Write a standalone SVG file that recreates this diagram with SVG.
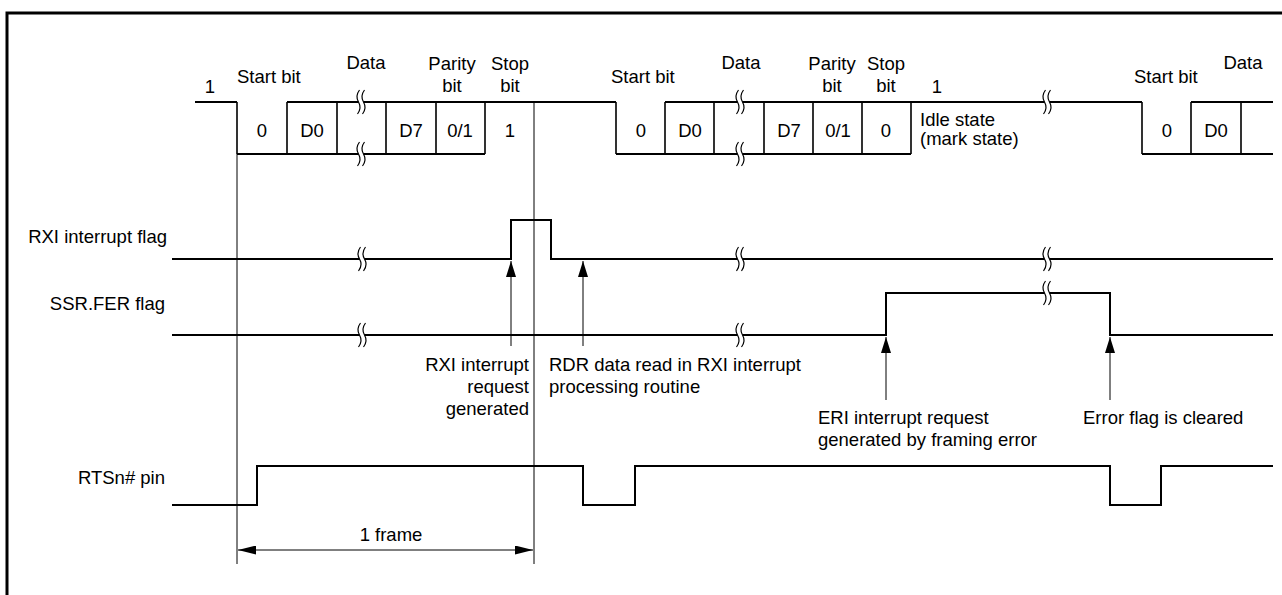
<svg xmlns="http://www.w3.org/2000/svg" width="1282" height="595" viewBox="0 0 1282 595">
<style>
.t{font-family:"Liberation Sans",Arial,sans-serif;font-size:18.5px;fill:#000}
.m{text-anchor:middle}
.e{text-anchor:end}
.sig{fill:none;stroke:#000;stroke-width:2}
.box{fill:none;stroke:#000;stroke-width:1.6}
.ref{fill:none;stroke:#000;stroke-width:1}
.arr{fill:none;stroke:#000;stroke-width:1}
</style>
<defs>
<marker id="ah" markerUnits="userSpaceOnUse" markerWidth="16" markerHeight="10" viewBox="0 0 16 10" refX="16" refY="5" orient="auto-start-reverse">
<path d="M0,0 L16,5 L0,10 Z" fill="#000"/>
</marker>
<marker id="ah2" markerUnits="userSpaceOnUse" markerWidth="18" markerHeight="9" viewBox="0 0 18 9" refX="18" refY="4.5" orient="auto-start-reverse">
<path d="M0,0 L18,4.5 L0,9 Z" fill="#000"/>
</marker>
<g id="brk">
<path d="M-1.5,-12 Q-6,-6 -2.5,0 Q1,6 -3.5,12 L1.5,12 Q6,6 2.5,0 Q-1,-6 3.5,-12 Z" fill="#fff" stroke="none"/>
<path d="M-1.5,-12 Q-6,-6 -2.5,0 Q1,6 -3.5,12 M3.5,-12 Q-1,-6 2.5,0 Q6,6 1.5,12" fill="none" stroke="#000" stroke-width="1.2"/>
</g>
</defs>

<g id="border">
<path d="M7,600 V13 H1290" fill="none" stroke="#000" stroke-width="3"/>
</g>

<g id="labels">
<text class="t e" x="167" y="243">RXI interrupt flag</text>
<text class="t e" x="165" y="310">SSR.FER flag</text>
<text class="t e" x="165" y="484">RTSn# pin</text>
</g>

<g id="rxd-signal">
<path class="sig" d="M195,102 H237 M287,102 H616 M665,102 H1142 M1191,102 H1273 M237,154 H485 M616,154 H911 M1142,154 H1273"/>
<path class="box" d="M237,102 V154 M287,102 V154 M337,102 V154 M386,102 V154 M436,102 V154 M485,102 V154 M616,102 V154 M665,102 V154 M714,102 V154 M764,102 V154 M813,102 V154 M862,102 V154 M911,102 V154 M1142,102 V154 M1191,102 V154 M1241,102 V154"/>
<use href="#brk" x="361" y="102"/>
<use href="#brk" x="361" y="154"/>
<use href="#brk" x="740" y="102"/>
<use href="#brk" x="740" y="154"/>
<use href="#brk" x="1047" y="102"/>
<text class="t m" x="210" y="93">1</text>
<text class="t" x="237" y="83">Start bit</text>
<text class="t m" x="366" y="69">Data</text>
<text class="t m" x="452" y="70">Parity</text>
<text class="t m" x="452" y="92">bit</text>
<text class="t m" x="510" y="70">Stop</text>
<text class="t m" x="510" y="92">bit</text>
<text class="t m" x="262" y="137">0</text>
<text class="t m" x="312" y="137">D0</text>
<text class="t m" x="411" y="137">D7</text>
<text class="t m" x="460" y="137">0/1</text>
<text class="t m" x="510" y="137">1</text>
<text class="t" x="611" y="83">Start bit</text>
<text class="t m" x="741" y="69">Data</text>
<text class="t m" x="832" y="70">Parity</text>
<text class="t m" x="832" y="92">bit</text>
<text class="t m" x="886" y="70">Stop</text>
<text class="t m" x="886" y="92">bit</text>
<text class="t m" x="937" y="93">1</text>
<text class="t m" x="641" y="137">0</text>
<text class="t m" x="690" y="137">D0</text>
<text class="t m" x="789" y="137">D7</text>
<text class="t m" x="838" y="137">0/1</text>
<text class="t m" x="886" y="137">0</text>
<text class="t" x="920" y="126">Idle state</text>
<text class="t" x="920" y="145">(mark state)</text>
<text class="t" x="1134" y="83">Start bit</text>
<text class="t m" x="1243" y="69">Data</text>
<text class="t m" x="1167" y="137">0</text>
<text class="t m" x="1216" y="137">D0</text>
</g>

<g id="rxi-flag">
<path class="sig" d="M172,259 H511 V220 H551 V259 H1273"/>
<use href="#brk" x="362" y="259"/>
<use href="#brk" x="740" y="259"/>
<use href="#brk" x="1047" y="259"/>
</g>

<g id="ssr-fer-flag">
<path class="sig" d="M172,335 H886 V293 H1110 V335 H1273"/>
<use href="#brk" x="362" y="335"/>
<use href="#brk" x="740" y="335"/>
<use href="#brk" x="1047" y="293"/>
</g>

<g id="rts-pin">
<path class="sig" d="M172,505 H257 V466 H583 V505 H635 V466 H1110 V505 H1161 V466 H1273"/>
</g>

<g id="connectors">
<path class="ref" d="M237,154 V564 M534,102 V564"/>
<line class="arr" x1="511" y1="346" x2="511" y2="261" marker-end="url(#ah)"/>
<line class="arr" x1="583" y1="346" x2="583" y2="261" marker-end="url(#ah)"/>
<line class="arr" x1="886" y1="400" x2="886" y2="337" marker-end="url(#ah)"/>
<line class="arr" x1="1110" y1="400" x2="1110" y2="337" marker-end="url(#ah)"/>
<line class="arr" x1="238" y1="550" x2="533" y2="550" marker-start="url(#ah2)" marker-end="url(#ah2)"/>
</g>

<g id="annotations">
<text class="t e" x="529" y="371">RXI interrupt</text>
<text class="t e" x="529" y="393">request</text>
<text class="t e" x="529" y="415">generated</text>
<text class="t" x="549" y="371">RDR data read in RXI interrupt</text>
<text class="t" x="549" y="393">processing routine</text>
<text class="t" x="818" y="424">ERI interrupt request</text>
<text class="t" x="818" y="446">generated by framing error</text>
<text class="t" x="1083" y="424">Error flag is cleared</text>
<text class="t m" x="391" y="541">1 frame</text>
</g>
</svg>
